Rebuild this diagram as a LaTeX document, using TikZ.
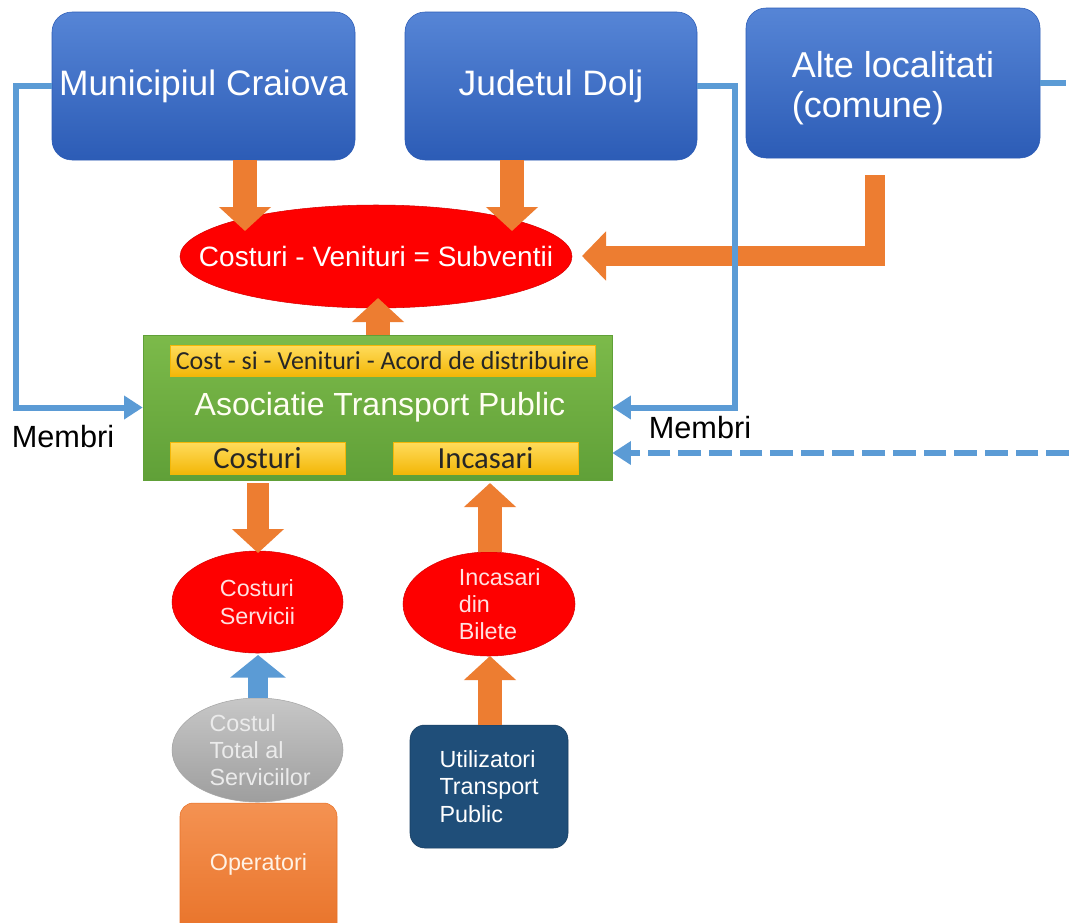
\documentclass[tikz,border=0pt]{standalone}
\usepackage{fontspec}
\setmainfont{Liberation Sans}
\newfontfamily\calibri{Carlito}
\usetikzlibrary{arrows.meta,positioning,calc,shapes.geometric}
\definecolor{boxblue}{RGB}{86,133,214}
\definecolor{boxbluedark}{RGB}{44,92,182}
\definecolor{linkblue}{RGB}{91,155,213}
\definecolor{flowred}{RGB}{254,0,0}
\definecolor{floworange}{RGB}{237,125,49}
\definecolor{atpgreen}{RGB}{124,186,74}
\definecolor{atpgreendark}{RGB}{96,160,56}
\definecolor{baryellow}{RGB}{255,220,92}
\definecolor{baryellowdark}{RGB}{243,183,8}
\definecolor{usernavy}{RGB}{31,78,121}
\definecolor{opertop}{RGB}{244,146,82}
\definecolor{operbot}{RGB}{232,114,40}

\begin{document}
\begin{tikzpicture}[x=0.75pt,y=-0.75pt,
topbox/.style={rounded corners=15pt,top color=boxblue,bottom color=boxbluedark,draw=boxbluedark,text=white,font=\fontsize{26.5}{30}\selectfont,minimum height=111pt,align=left},
ell/.style={ellipse,inner sep=0pt},
redell/.style={ell,fill=flowred,draw=flowred!85!black},
elltxt/.style={text=white!88!red,align=left,font=\fontsize{17.5}{20.5}\selectfont},
atpbox/.style={top color=atpgreen,bottom color=atpgreendark,draw=atpgreendark,minimum width=351.75pt,minimum height=108.75pt},
bar/.style={top color=baryellow,bottom color=baryellowdark,draw=baryellowdark,inner sep=0pt,text=black!85},
blockarr/.style={-{Triangle[length=18pt,width=38pt]},line width=18pt,draw=floworange,line join=miter},
memline/.style={-{Triangle[length=14pt,width=17pt]},line width=4.5pt,draw=linkblue,line join=miter},
memtxt/.style={font=\fontsize{23}{26}\selectfont,text=black}
]
\useasboundingbox (0,0) rectangle (1069,922);
\fill[white] (0,0) rectangle (1069,922);
\node[topbox,minimum width=227.25pt] (mun) at (203.5,86) {Municipiul Craiova};
\node[topbox,minimum width=219pt] (jud) at (551,86) {Judetul Dolj};
\node[topbox,minimum width=220.5pt,minimum height=112.5pt,label={[text=white,align=left,font=\fontsize{27}{30}\selectfont,yshift=-4pt]center:Alte localitati\\(comune)}] (alte) at (893,83) {};
\node[redell,minimum width=294pt,minimum height=77.25pt,label={[text=white,font=\fontsize{21}{24}\selectfont]center:Costuri - Venituri = Subventii}] (subv) at (376,256.5) {};
\node[atpbox] (atp) at (377.5,407.5) {};
\node[bar,minimum width=318.75pt,minimum height=23.25pt,font=\calibri\fontsize{19.5}{22}\selectfont] (acord) at (382.5,360.5) {Cost - si - Venituri - Acord de distribuire};
\node[text=white!95!yellow,font=\fontsize{24}{28}\selectfont] (atptxt) at (380,407) {Asociatie Transport Public};
\node[bar,minimum width=131.25pt,minimum height=24pt,font=\calibri\fontsize{23}{25}\selectfont] (costbar) at (257.5,458) {Costuri};
\node[bar,minimum width=138.75pt,minimum height=24pt,font=\calibri\fontsize{23}{25}\selectfont] (incbar) at (485.5,458) {Incasari};
\node[redell,minimum width=128.25pt,minimum height=76.5pt,label={[elltxt]center:Costuri\\Servicii}] (costell) at (257.5,602) {};
\node[redell,minimum width=129pt,minimum height=78pt,label={[elltxt,xshift=8pt]center:Incasari\\din\\Bilete}] (incell) at (489,604) {};
\node[ell,top color=black!22,bottom color=black!38,draw=black!35,minimum width=128.25pt,minimum height=78pt,label={[elltxt,text=white!92!black,xshift=2pt]center:Costul\\Total al\\Serviciilor}] (totell) at (257.5,750) {};
\node[rounded corners=10pt,top color=opertop,bottom color=operbot,draw=operbot,minimum width=117.75pt,minimum height=102.75pt,label={[elltxt,text=white!90!orange,yshift=5.5pt]center:Operatori}] (oper) at (258.5,871.5) {};
\node[rounded corners=11pt,fill=usernavy,draw=usernavy!80!black,minimum width=118.5pt,minimum height=92.25pt,text=white,align=left,font=\fontsize{17.5}{20.5}\selectfont] (users) at (489,786.5) {Utilizatori\\Transport\\Public};
\node[memtxt] (membril) at (63,437) {Membri};
\node[memtxt] (membrir) at (700,428) {Membri};
\coordinate (tipmun) at (245,231);
\coordinate (tipjud) at (512,231);
\coordinate (altebend) at (875,256);
\coordinate (tipalte) at (582,256);
\coordinate (tipatp) at (378,298);
\coordinate (tipcs) at (258,553);
\coordinate (tipinc) at (490,483);
\coordinate (tipib) at (490,656);
\coordinate (tiptot) at (258,655);
\coordinate (dashin) at (1069,453);
\coordinate (alteout) at (1066,83);
\draw[blockarr] (mun.south -| tipmun) -- (tipmun);
\draw[blockarr] (jud.south -| tipjud) -- (tipjud);
\draw[blockarr,line width=15pt,-{Triangle[length=18pt,width=36pt]}] ($(alte.south -| altebend)+(0,17)$) -- (altebend) -- (tipalte);
\draw[blockarr] (atp.north -| tipatp) -- (tipatp);
\draw[blockarr,line width=16pt] ($(atp.south -| tipcs)+(0,3)$) -- (tipcs);
\draw[blockarr] (incell.north -| tipinc) -- (tipinc);
\draw[blockarr] (users.north -| tipib) -- (tipib);
\draw[blockarr,draw=linkblue,line width=15pt,-{Triangle[length=17pt,width=41pt]}] (totell.north -| tiptot) -- (tiptot);
\draw[memline] (mun.west) -| ($(atp.west)+(-127,0)$) -- (atp.west);
\draw[memline] (jud.east) -| ($(atp.east)+(123,0)$) -- (atp.east);
\draw[memline,dash pattern=on 17pt off 6pt] (dashin) -- (atp.east |- dashin);
\draw[memline,-] (alte.east) -- (alteout);
\end{tikzpicture}
\end{document}
